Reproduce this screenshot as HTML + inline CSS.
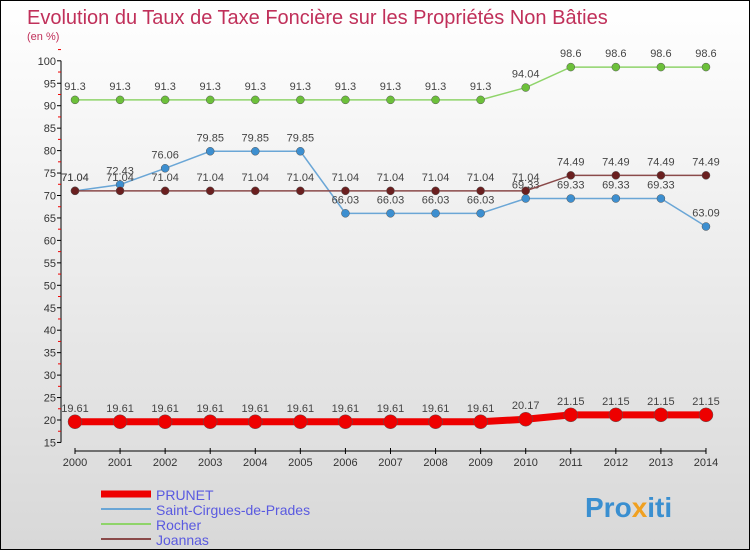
<!DOCTYPE html>
<html><head><meta charset="utf-8"><style>
body{margin:0}
#c{width:748px;height:548px;border:1px solid #000;background:linear-gradient(#fff,#d8d8d8);position:relative;font-family:"Liberation Sans",sans-serif}
svg text{font-family:"Liberation Sans",sans-serif}
</style></head><body>
<div id="c">
<svg id="s" width="748" height="548">
<text x="26" y="23" font-size="20" fill="#c0305a">Evolution du Taux de Taxe Foncière sur les Propriétés Non Bâties</text>
<text x="26" y="39" font-size="11" fill="#c0305a">(en %)</text>
<text x="584" y="516" font-size="28" font-weight="bold" fill="#3a8fd0">Pro<tspan fill="#f0a020">x</tspan>iti</text>
</svg>
</div>
<script>
const years=[2000,2001,2002,2003,2004,2005,2006,2007,2008,2009,2010,2011,2012,2013,2014];
const prunet=[19.61,19.61,19.61,19.61,19.61,19.61,19.61,19.61,19.61,19.61,20.17,21.15,21.15,21.15,21.15];
const saint=[71.04,72.43,76.06,79.85,79.85,79.85,66.03,66.03,66.03,66.03,69.33,69.33,69.33,69.33,63.09];
const rocher=[91.3,91.3,91.3,91.3,91.3,91.3,91.3,91.3,91.3,91.3,94.04,98.6,98.6,98.6,98.6];
const joannas=[71.04,71.04,71.04,71.04,71.04,71.04,71.04,71.04,71.04,71.04,71.04,74.49,74.49,74.49,74.49];
const yTicks=[15,20,25,30,35,40,45,50,55,60,65,70,75,80,85,90,95,100];
const NS='http://www.w3.org/2000/svg';
const s=document.getElementById('s');
const X=i=>74+i*45.07;
const Y=v=>419-(v-20)*4.49;
function el(t,a){const e=document.createElementNS(NS,t);for(const k in a)e.setAttribute(k,a[k]);s.appendChild(e);return e;}
let ax=el('line',{x1:60,y1:Y(100),x2:60,y2:Y(15),stroke:'#000'});


yTicks.forEach(v=>{
 let t=el('line',{x1:56,x2:60,y1:Y(v),y2:Y(v),stroke:'#000'});
 
 
 let m=el('line',{x1:57,x2:60,y1:Y(v+2.5),y2:Y(v+2.5),stroke:'#e00'});
 
 
 let l=el('text',{x:55,y:Y(v)+4,'font-size':11,'text-anchor':'end',fill:'#333'});
 l.textContent=v;
 
 
});
let xa=el('line',{x1:X(0),y1:450,x2:X(14),y2:450,stroke:'#000'});


years.forEach((y,i)=>{
 let t=el('line',{x1:X(i),x2:X(i),y1:447,y2:453,stroke:'#000'});
 
 
 let l=el('text',{x:X(i),y:465,'font-size':11,'text-anchor':'middle',fill:'#333'});
 l.textContent=y;
 
 
});
function series(d,col,dot,w,r,name){
 let p=el('polyline',{points:d.map((v,i)=>X(i)+','+Y(v)).join(' '),fill:'none',stroke:col,'stroke-width':w});
 
 
 d.forEach((v,i)=>{
  let c=el('circle',{cx:X(i),cy:Y(v),r:r,fill:dot,stroke:'#555','stroke-width':0.5});
  
  
  let t=el('text',{x:X(i),y:Y(v)-10,'font-size':11,'text-anchor':'middle',fill:'#444'});
  t.textContent=String(v).replace(/\.?0+$/,'');
  
  
 });
}
series(rocher,'#8fd46a','#6cc03a',1.5,4,'rocher');
series(saint,'#6aa6d6','#3d8fd0',1.5,4,'saint-cirgues');
series(joannas,'#8a4a4a','#6a1f1f',1.5,4,'joannas');
series(prunet,'#e00','#e00',7,7,'prunet');
const leg=[['PRUNET','#e00',7],['Saint-Cirgues-de-Prades','#6aa6d6',2],['Rocher','#8fd46a',2],['Joannas','#8a4a4a',2]];
leg.forEach((l,i)=>{
 let y=493+i*15;
 let ln=el('line',{x1:100,x2:150,y1:y,y2:y,stroke:l[1],'stroke-width':l[2]});
 
 
 let t=el('text',{x:155,y:y+6,'font-size':14,fill:'#5a5ae0'});
 t.textContent=l[0];
 
 
});
</script>
</body></html>
